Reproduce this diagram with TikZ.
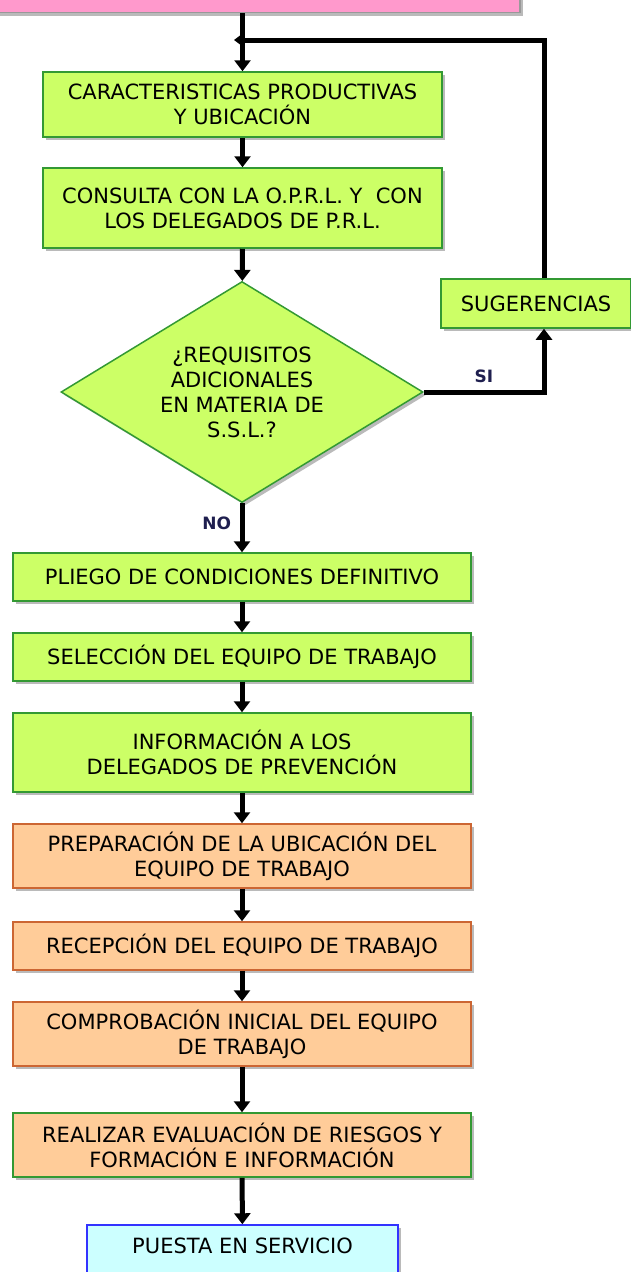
\documentclass[tikz,border=0pt]{standalone}
\usepackage{fontspec}
\setmainfont{DejaVu Sans}
\usetikzlibrary{shapes.geometric}
\usetikzlibrary{shadows}
\usetikzlibrary{arrows.meta}
\definecolor{lima}{HTML}{CCFF66}
\definecolor{limaborde}{HTML}{339933}
\definecolor{melocoton}{HTML}{FFCC99}
\definecolor{ladrillo}{HTML}{CC6633}
\definecolor{rosa}{HTML}{FF99CC}
\definecolor{celeste}{HTML}{CCFFFF}
\definecolor{azul}{HTML}{3333FF}
\definecolor{etiqueta}{HTML}{1F1F4F}

\begin{document}
\begin{tikzpicture}[x=1pt,y=-1pt,>={Triangle[width=16pt,length=11pt]},
    sombra/.style={drop shadow={shadow xshift=3pt,shadow yshift=-3pt,fill=black!45,opacity=.6}},
    caja/.style={sombra,draw=limaborde,fill=lima,line width=1.5pt,minimum width=458pt,inner sep=0pt,align=center,font=\fontsize{21pt}{25pt}\selectfont},
    cajanaranja/.style={caja,draw=ladrillo,fill=melocoton},
    flecha/.style={->,line width=5pt},
    rotulo/.style={font=\bfseries\fontsize{17pt}{20pt}\selectfont,text=etiqueta}]
    \useasboundingbox (0,0) rectangle (631,1272);
    \node[draw=black!40,fill=rosa,line width=1.5pt,minimum width=530pt,minimum height=53pt,sombra] (inicio) at (255,-14) {};
    \node[caja,minimum width=399pt,minimum height=65pt] (b1) at (242.5,104.5) {CARACTERISTICAS PRODUCTIVAS\\Y UBICACIÓN};
    \node[caja,minimum width=399pt,minimum height=80pt] (b2) at (242.5,208) {CONSULTA CON LA O.P.R.L. Y~~CON\\LOS DELEGADOS DE P.R.L.};
    \node[caja,diamond,aspect=1.64,minimum width=362pt,minimum height=221pt] (dia) at (242,392) {¿REQUISITOS\\ADICIONALES\\EN MATERIA DE\\S.S.L.?};
    \node[caja,minimum width=190pt,minimum height=49pt] (sug) at (536,303.5) {SUGERENCIAS};
    \node[caja,minimum height=48pt] (b3) at (242,577) {PLIEGO DE CONDICIONES DEFINITIVO};
    \node[caja,minimum height=48pt] (b4) at (242,657) {SELECCIÓN DEL EQUIPO DE TRABAJO};
    \node[caja,minimum height=79pt] (b5) at (242,752.5) {INFORMACIÓN A LOS\\DELEGADOS DE PREVENCIÓN};
    \node[cajanaranja,minimum height=64pt] (b6) at (242,856) {PREPARACIÓN DE LA UBICACIÓN DEL\\EQUIPO DE TRABAJO};
    \node[cajanaranja,minimum height=48pt] (b7) at (242,946) {RECEPCIÓN DEL EQUIPO DE TRABAJO};
    \node[cajanaranja,minimum height=64pt] (b8) at (242,1034) {COMPROBACIÓN INICIAL DEL EQUIPO\\DE TRABAJO};
    \node[cajanaranja,draw=limaborde,minimum height=64pt] (b9) at (242,1145) {REALIZAR EVALUACIÓN DE RIESGOS Y\\FORMACIÓN E INFORMACIÓN};
    \node[caja,draw=azul,fill=celeste,minimum width=311pt,minimum height=65pt,text depth=24pt] (b10) at (242.5,1257.5) {PUESTA EN SERVICIO};
    \coordinate (esquina) at (544,40);
    \coordinate (union) at (234,40);
    \draw[flecha] (inicio.south -| b1.north) -- (b1.north);
    \draw[line width=5pt,-{Triangle[width=10pt,length=7pt]}] (sug.north -| esquina) -- (esquina) -- (union);
    \draw[flecha] (b1) -- (b2);
    \draw[flecha] (b2) -- (dia);
    \draw[flecha] (dia.east) -| (sug.south -| esquina) node[rotulo,pos=.25,above=3pt] {SI};
    \draw[flecha] (dia.south) -- (b3.north) node[rotulo,midway,left=5pt,yshift=4pt] {NO};
    \draw[flecha] (b3) -- (b4);
    \draw[flecha] (b4) -- (b5);
    \draw[flecha] (b5) -- (b6);
    \draw[flecha] (b6) -- (b7);
    \draw[flecha] (b7) -- (b8);
    \draw[flecha] (b8) -- (b9);
    \draw[flecha] (b9) -- (b10);
\end{tikzpicture}
\end{document}
